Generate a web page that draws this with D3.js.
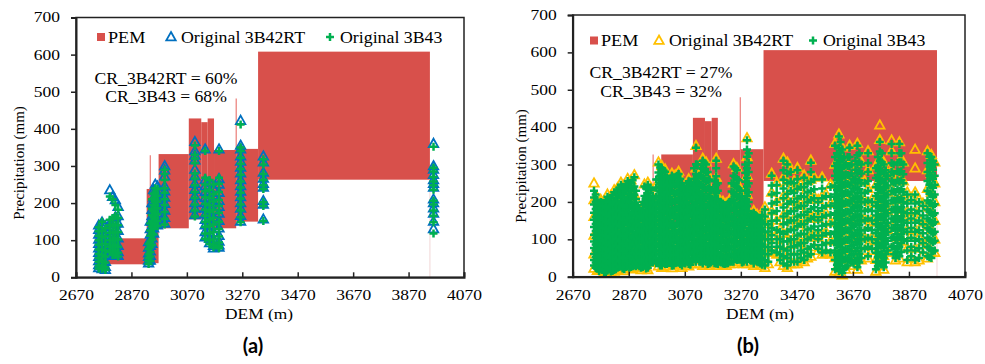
<!DOCTYPE html>
<html>
<head>
<meta charset="utf-8">
<script src="https://cdn.jsdelivr.net/npm/d3@7"></script>
<style>
  body { margin: 0; background: #fff; }
  svg { display: block; }
  text { font-family: "Liberation Serif", "Times New Roman", serif; fill: #000; }
  .panel-label { font-family: Lato, "Open Sans", sans-serif; font-weight: bold; }
</style>
</head>
<body>
<svg id="chart" width="985" height="364"></svg>
<script>
// ticks and labels
const demTicks = [2670, 2870, 3070, 3270, 3470, 3670, 3870, 4070];
const precipTicks = [0, 100, 200, 300, 400, 500, 600, 700];
const seriesNames = ['PEM', 'Original 3B42RT', 'Original 3B43'];
const crA = ['CR_3B42RT = 60%', 'CR_3B43 = 68%'];
const crB = ['CR_3B42RT = 27%', 'CR_3B43 = 32%'];

// PEM envelope blocks: [dem from, dem to, low, high]
const pemA = [
  [2742, 2785, 20, 77], [2785, 2925, 35, 105], [2925, 2968, 38, 238],
  [2968, 3077, 132, 332], [3077, 3122, 156, 428], [3122, 3145, 156, 418],
  [3145, 3168, 130, 428], [3168, 3248, 132, 343], [3248, 3327, 150, 346],
  [3327, 3947, 263, 608]
];
// thin PEM lines: [dem, low, high]
const pemLinesA = [[2938, 40, 329], [3248, 340, 482], [3947, 0, 263]];

const pemB = [
  [2745, 2790, 20, 78], [2790, 2930, 35, 105], [2930, 2950, 15, 240],
  [2986, 3099, 132, 327], [3099, 3142, 158, 425], [3142, 3166, 158, 416],
  [3166, 3188, 150, 425], [3188, 3268, 132, 339], [3268, 3351, 148, 341],
  [3351, 3970, 256, 606]
];
const pemLinesB = [[2957, 150, 327], [3268, 339, 480], [3970, 0, 256]];

// panel (a) scatter: [dem, values]
const rtA = [
  [2752, [140, 128, 115, 102, 90, 78, 66, 55, 44, 33, 25]],
  [2764, [148, 122, 105, 88, 72, 58, 42, 30, 22]],
  [2776, [138, 112, 92, 75, 58, 42, 28, 20]],
  [2792, [235, 145, 130, 112, 95, 80, 65]],
  [2802, [217, 150, 135, 118, 100, 85, 70, 58]],
  [2812, [208, 162, 145, 125, 108, 90, 75, 62]],
  [2822, [190, 165, 145, 125, 105, 85, 68, 58]],
  [2932, [95, 80, 65, 55, 45, 38]],
  [2938, [150, 130, 115, 100, 85, 70, 58, 45]],
  [2944, [200, 182, 165, 150, 135, 120, 105, 90]],
  [2950, [235, 215, 198, 180, 165, 150, 132, 118]],
  [2956, [250, 232, 215, 198, 180, 162, 145]],
  [2964, [245, 225, 208, 190, 172, 155, 140]],
  [2990, [300, 288, 272, 245, 232, 215, 198, 180, 160, 145]],
  [3099, [365, 340, 328, 315, 290, 272, 252, 236, 218, 200, 185, 168]],
  [3136, [345, 262, 245, 230, 214, 200, 185, 170, 155, 140, 122, 108]],
  [3152, [255, 232, 212, 192, 175, 158, 140, 122, 104, 92]],
  [3166, [240, 220, 200, 180, 160, 140, 120, 100, 85, 78]],
  [3186, [345, 265, 250, 228, 206, 190, 172, 152, 132, 112, 96, 86, 80]],
  [3264, [422, 355, 345, 326, 312, 296, 280, 262, 246, 231, 216, 200, 185, 166, 150]],
  [3346, [326, 310, 282, 266, 252, 242, 206, 196, 156]],
  [3960, [360, 300, 290, 276, 262, 252, 242, 210, 200, 186, 172, 150, 130]]
];
const b43A = [
  [2752, [135, 124, 112, 100, 88, 75, 63, 52, 42, 32, 24]],
  [2764, [150, 125, 108, 90, 74, 60, 45, 32, 23]],
  [2776, [132, 110, 90, 72, 56, 40, 27, 20]],
  [2792, [218, 155, 140, 120, 100, 82, 68]],
  [2802, [210, 160, 138, 120, 102, 86, 72, 60]],
  [2812, [195, 165, 142, 122, 105, 88, 72, 60]],
  [2822, [182, 160, 140, 122, 102, 82, 66, 56]],
  [2932, [90, 76, 62, 52, 44, 36]],
  [2938, [145, 126, 112, 96, 82, 68, 56, 44]],
  [2944, [210, 185, 168, 152, 136, 118, 102, 88]],
  [2950, [225, 212, 195, 178, 162, 146, 130, 115]],
  [2956, [240, 228, 210, 195, 176, 160, 142]],
  [2964, [238, 220, 204, 186, 170, 152, 138]],
  [2990, [290, 278, 262, 240, 228, 210, 195, 176, 158, 142]],
  [3099, [355, 330, 320, 308, 280, 266, 248, 230, 214, 196, 180, 164]],
  [3136, [340, 268, 250, 232, 216, 198, 182, 166, 150, 136, 118, 104]],
  [3152, [262, 236, 214, 194, 176, 156, 138, 118, 100, 90]],
  [3166, [250, 224, 204, 182, 160, 142, 122, 102, 88, 80]],
  [3186, [340, 268, 252, 230, 208, 192, 174, 150, 130, 110, 94, 84, 78]],
  [3264, [412, 350, 340, 322, 306, 292, 276, 258, 242, 228, 212, 196, 180, 162, 148]],
  [3346, [318, 304, 278, 262, 248, 238, 202, 192, 152]],
  [3960, [352, 295, 285, 270, 258, 248, 236, 206, 196, 180, 166, 148, 118]]
];

// panel (b) scatter: [dem, values]
const b43B = [
  [2746, [230, 212, 193, 171, 152, 133, 112, 94, 77, 61, 45, 30]],
  [2758, [205, 186, 168, 149, 131, 113, 96, 80, 64, 49, 35, 21]],
  [2770, [200, 181, 160, 142, 121, 104, 88, 71, 55, 40, 26]],
  [2782, [196, 176, 157, 138, 119, 101, 84, 68, 51, 36, 21, 12]],
  [2794, [214, 194, 174, 156, 135, 117, 99, 80, 62, 46, 30, 16]],
  [2806, [210, 189, 170, 151, 131, 111, 94, 76, 59, 41, 26, 14]],
  [2818, [226, 204, 186, 166, 146, 124, 106, 89, 71, 54, 36, 18]],
  [2830, [231, 210, 191, 169, 150, 131, 110, 92, 74, 56, 40, 24]],
  [2842, [246, 224, 201, 181, 160, 139, 121, 101, 81, 64, 46, 29]],
  [2854, [240, 221, 199, 180, 159, 138, 116, 96, 76, 55, 36, 20]],
  [2866, [256, 236, 211, 191, 170, 149, 129, 110, 89, 70, 51, 31]],
  [2878, [251, 229, 208, 189, 166, 146, 126, 104, 86, 66, 45, 26]],
  [2890, [266, 241, 219, 196, 176, 154, 134, 112, 91, 71, 50, 30]],
  [2902, [191, 171, 149, 131, 110, 91, 70, 51, 34]],
  [2914, [176, 156, 134, 116, 96, 75, 56, 39, 24]],
  [2926, [241, 216, 194, 171, 151, 129, 110, 89, 70, 49, 30]],
  [2938, [246, 224, 204, 186, 161, 141, 120, 99, 80, 61, 41, 24]],
  [2950, [231, 209, 186, 166, 144, 125, 106, 84, 65, 45]],
  [2962, [200, 181, 160, 139, 121, 100, 81, 60, 44]],
  [2976, [300, 279, 260, 239, 216, 196, 174, 151, 130, 110, 89, 70, 50, 35]],
  [2988, [290, 270, 249, 231, 209, 186, 164, 146, 124, 105, 85, 64, 46, 30]],
  [3000, [281, 259, 240, 216, 194, 175, 151, 129, 110, 90, 71, 50, 34]],
  [3012, [255, 236, 214, 195, 171, 150, 131, 109, 90, 70, 55, 39]],
  [3024, [270, 249, 230, 206, 184, 165, 141, 120, 101, 79, 60, 41, 29]],
  [3036, [265, 244, 221, 200, 179, 161, 135, 115, 96, 74, 55, 36]],
  [3048, [275, 251, 229, 210, 186, 164, 145, 121, 100, 81, 59, 40]],
  [3060, [250, 231, 209, 190, 169, 151, 125, 106, 84, 65, 46, 30]],
  [3072, [230, 211, 189, 170, 151, 129, 111, 89, 70, 51, 35]],
  [3084, [255, 234, 215, 191, 170, 149, 130, 111, 89, 70, 50, 34]],
  [3096, [245, 224, 201, 180, 161, 139, 120, 99, 80, 61, 40]],
  [3110, [345, 301, 275, 250, 226, 200, 180, 159, 140, 116, 95, 75, 55, 40]],
  [3122, [270, 249, 226, 205, 181, 160, 139, 120, 101, 80, 59, 40]],
  [3134, [310, 289, 265, 241, 215, 194, 175, 151, 130, 109, 90, 70, 50, 35]],
  [3146, [300, 279, 256, 230, 209, 186, 165, 140, 121, 100, 79, 60, 40]],
  [3158, [260, 239, 216, 195, 174, 150, 131, 110, 89, 70, 51, 35]],
  [3170, [200, 179, 160, 141, 120, 99, 80, 61, 45]],
  [3182, [310, 290, 269, 245, 224, 201, 180, 159, 136, 115, 94, 75, 55, 35]],
  [3194, [200, 180, 159, 140, 121, 100, 80, 59, 40]],
  [3206, [195, 176, 155, 134, 115, 96, 75, 55, 35]],
  [3218, [190, 169, 150, 131, 110, 89, 70, 51, 35]],
  [3230, [200, 181, 160, 139, 120, 101, 80, 60, 40]],
  [3244, [295, 270, 249, 226, 205, 184, 160, 141, 120, 99, 80, 61, 40]],
  [3256, [285, 261, 240, 214, 190, 171, 145, 124, 105, 86, 65, 45]],
  [3268, [230, 209, 190, 171, 150, 129, 110, 91, 70, 50]],
  [3280, [200, 181, 160, 139, 120, 100, 81, 60, 40]],
  [3292, [365, 340, 321, 290, 265, 241, 215, 189, 165, 146, 120, 99, 80, 60, 40]],
  [3304, [160, 139, 120, 101, 80, 60, 45]],
  [3316, [170, 151, 130, 109, 90, 71, 50, 35]],
  [3328, [160, 140, 119, 100, 81, 60, 40]],
  [3340, [150, 131, 110, 89, 70, 50, 35]],
  [3356, [180, 161, 140, 119, 100, 80, 61, 45, 30]],
  [3368, [140, 121, 100, 79, 60, 40]],
  [3380, [270, 244, 220, 196, 170, 149, 130, 111, 90, 70]],
  [3398, [245, 224, 200, 176, 150, 125, 100, 80, 65]],
  [3410, [120, 101, 80, 60, 45]],
  [3422, [310, 285, 259, 236, 210, 185, 161, 140, 115, 94, 75, 55, 35]],
  [3436, [300, 276, 250, 221, 195, 169, 145, 121, 95, 70, 50, 30]],
  [3448, [280, 254, 230, 201, 175, 150, 126, 100, 80, 60, 40]],
  [3460, [250, 224, 200, 176, 150, 124, 100, 81, 60, 40]],
  [3472, [285, 261, 235, 209, 185, 161, 135, 110, 84, 60, 40]],
  [3484, [240, 215, 189, 165, 141, 115, 90, 70, 50]],
  [3496, [265, 240, 214, 190, 166, 140, 114, 90, 65, 45]],
  [3508, [250, 226, 200, 174, 150, 126, 100, 75, 55]],
  [3520, [305, 280, 254, 230, 205, 181, 155, 129, 105, 80, 60]],
  [3532, [260, 234, 210, 186, 160, 134, 110, 85]],
  [3546, [200, 176, 150, 124, 100, 75]],
  [3560, [260, 236, 210, 184, 160, 136, 110, 85, 65]],
  [3574, [215, 190, 164, 140, 116, 90, 70]],
  [3590, [240, 214, 190, 166, 140, 114, 90, 65]],
  [3606, [350, 320, 296, 270, 244, 220, 196, 170, 144, 120, 96, 70, 45, 20]],
  [3620, [375, 345, 320, 291, 265, 239, 215, 190, 166, 140, 114, 90, 65, 40, 15]],
  [3632, [340, 316, 290, 264, 240, 216, 190, 164, 140, 116, 90, 64, 40, 10]],
  [3644, [300, 274, 250, 226, 200, 174, 150, 126, 100, 74, 50, 25]],
  [3658, [345, 320, 296, 270, 244, 220, 196, 170, 144, 120, 96, 70, 45]],
  [3672, [260, 236, 210, 184, 160, 136, 110, 84, 60, 35]],
  [3686, [350, 325, 300, 276, 250, 224, 200, 176, 150, 124, 100, 76, 50, 25]],
  [3700, [300, 276, 250, 224, 200, 176, 150, 124, 100, 76, 50]],
  [3712, [250, 224, 200, 176, 150, 124, 100, 75]],
  [3724, [330, 304, 280, 256, 230, 204, 180, 156, 130, 104, 80, 55]],
  [3738, [200, 176, 150, 124, 100, 75]],
  [3752, [290, 264, 240, 216, 190, 164, 140, 116, 90, 64, 40, 20]],
  [3766, [360, 335, 310, 284, 260, 236, 210, 184, 160, 136, 110, 84, 60, 35]],
  [3780, [300, 276, 250, 224, 200, 176, 150, 124, 100, 76, 50, 25]],
  [3794, [270, 244, 220, 196, 170, 144, 120, 96, 70]],
  [3808, [355, 330, 304, 280, 256, 230, 204, 180, 156, 130, 104, 80]],
  [3822, [250, 226, 200, 174, 150, 126, 100, 74, 50]],
  [3836, [355, 330, 306, 280, 254, 230, 206, 180, 154, 130, 106, 80, 55]],
  [3850, [300, 274, 250, 226, 200, 174, 150, 126, 100]],
  [3864, [220, 196, 170, 144, 120, 96, 70, 45]],
  [3878, [205, 180, 156, 130, 104, 80, 55]],
  [3892, [220, 196, 170, 144, 120, 96, 70, 45]],
  [3906, [200, 176, 150, 124, 100, 76, 50]],
  [3920, [190, 164, 140, 116, 90, 65]],
  [3936, [330, 304, 280, 256, 230, 204, 180, 156, 130, 104, 80, 55]],
  [3950, [320, 296, 270, 244, 220, 196, 170, 144, 120, 96, 70, 50]],
  [3962, [300, 270, 246, 220, 194, 170, 146, 120, 96, 70]],
  // in-between stations
  [2752, [220, 200, 181, 160, 141, 122, 104, 86, 70, 53, 38, 24]],
  [2764, [196, 176, 158, 140, 122, 104, 88, 72, 56, 42, 28, 15]],
  [2776, [190, 170, 150, 131, 112, 95, 78, 62, 46, 31, 18]],
  [2788, [205, 185, 165, 146, 127, 108, 90, 74, 57, 41, 26, 12]],
  [2800, [200, 180, 161, 141, 121, 103, 85, 67, 50, 35, 20]],
  [2812, [218, 196, 177, 157, 136, 115, 98, 80, 63, 46, 28, 15]],
  [2824, [220, 200, 180, 160, 140, 120, 100, 82, 64, 47, 31, 20]],
  [2836, [238, 218, 196, 176, 155, 136, 115, 96, 78, 60, 42, 26]],
  [2848, [236, 214, 192, 171, 150, 129, 108, 88, 68, 50, 32, 22]],
  [2860, [248, 228, 206, 186, 165, 144, 122, 102, 82, 62, 42, 26]],
  [2872, [244, 222, 200, 180, 158, 138, 118, 96, 76, 56, 36, 24]],
  [2884, [258, 236, 214, 190, 170, 148, 128, 106, 86, 64, 44, 28]],
  [2896, [230, 208, 186, 164, 142, 120, 100, 80, 60, 42, 28]],
  [2908, [182, 162, 140, 122, 102, 82, 62, 44, 28]],
  [2920, [200, 180, 160, 140, 120, 100, 80, 60, 42, 26]],
  [2932, [236, 214, 192, 172, 150, 130, 110, 90, 70, 52, 34, 22]],
  [2944, [238, 216, 196, 176, 154, 132, 112, 92, 72, 52, 32]],
  [2956, [216, 196, 176, 156, 134, 114, 94, 74, 54, 38]],
  [2968, [260, 238, 214, 192, 170, 150, 128, 108, 88, 68, 50, 36]],
  [2982, [292, 270, 250, 228, 206, 184, 162, 140, 120, 100, 80, 60, 42, 30]],
  [2994, [284, 262, 242, 220, 198, 176, 154, 134, 114, 94, 74, 54, 38]],
  [3006, [266, 246, 226, 204, 182, 160, 140, 120, 100, 80, 62, 44, 34]],
  [3018, [262, 242, 222, 200, 178, 158, 136, 114, 94, 74, 56, 40]],
  [3030, [266, 246, 224, 202, 180, 160, 138, 118, 98, 78, 58, 40, 30]],
  [3042, [270, 248, 226, 204, 182, 160, 140, 118, 98, 78, 58, 38]],
  [3054, [262, 240, 218, 198, 176, 156, 134, 114, 92, 72, 52, 34]],
  [3066, [240, 220, 198, 178, 158, 138, 118, 96, 76, 56, 38]],
  [3078, [244, 222, 200, 180, 160, 140, 120, 100, 80, 60, 42]],
  [3090, [250, 228, 208, 186, 166, 144, 124, 104, 84, 64, 44, 32]],
  [3103, [290, 262, 238, 214, 190, 170, 150, 128, 108, 86, 66, 46]],
  [3116, [300, 264, 238, 214, 190, 170, 150, 130, 110, 88, 68, 48]],
  [3128, [290, 270, 246, 222, 200, 180, 160, 140, 118, 96, 76, 56, 40]],
  [3140, [305, 284, 260, 236, 212, 190, 170, 148, 126, 104, 84, 64, 44]],
  [3152, [280, 258, 236, 214, 192, 170, 150, 128, 106, 84, 64, 44, 34]],
  [3164, [230, 208, 188, 168, 148, 128, 108, 88, 68, 50, 38]],
  [3176, [255, 234, 212, 190, 170, 148, 128, 108, 86, 66, 48, 36]],
  [3188, [250, 230, 208, 186, 166, 146, 124, 104, 84, 64, 46, 34]],
  [3200, [198, 178, 158, 138, 118, 98, 78, 58, 38]],
  [3212, [192, 172, 152, 132, 112, 92, 72, 52, 34]],
  [3224, [195, 175, 155, 135, 115, 95, 75, 55, 36]],
  [3237, [250, 228, 206, 184, 162, 142, 120, 100, 80, 60, 40]],
  [3250, [290, 266, 244, 220, 198, 176, 154, 132, 112, 92, 72, 52]],
  [3262, [258, 236, 214, 192, 170, 150, 130, 110, 88, 68, 48]],
  [3274, [215, 194, 174, 154, 134, 114, 94, 74, 54, 38]],
  [3286, [300, 278, 254, 230, 206, 184, 160, 138, 116, 94, 72, 52]],
  [3298, [330, 305, 280, 250, 226, 200, 176, 152, 130, 108, 88, 68, 48]],
  [3310, [165, 145, 125, 105, 85, 65, 46]],
  [3322, [165, 145, 125, 105, 85, 65, 45]],
  [3334, [155, 135, 115, 95, 75, 55, 38]],
  [3346, [165, 145, 125, 105, 85, 65, 45, 32]],
  [3613, [330, 305, 282, 258, 232, 208, 184, 158, 132, 108, 84, 58, 32]],
  [3626, [360, 332, 306, 278, 252, 228, 202, 178, 152, 128, 102, 78, 52, 28]],
  [3638, [320, 296, 270, 246, 222, 196, 170, 146, 122, 96, 70, 46, 20]],
  [3651, [320, 296, 272, 248, 224, 198, 174, 150, 124, 98, 74, 48, 30]],
  [3665, [300, 276, 252, 228, 204, 180, 154, 130, 106, 82, 58, 40]],
  [3679, [310, 286, 262, 238, 214, 190, 164, 140, 116, 92, 68, 44]],
  [3693, [330, 306, 282, 258, 234, 210, 186, 162, 138, 112, 88, 62, 38]],
  [3759, [320, 296, 272, 248, 224, 200, 176, 152, 126, 100, 76, 52, 28]],
  [3773, [330, 306, 282, 258, 234, 210, 186, 162, 136, 112, 88, 62, 38]],
  [3787, [285, 262, 238, 212, 188, 162, 136, 112, 86, 60, 38]],
  [3815, [300, 276, 252, 228, 204, 180, 154, 130, 106, 82, 60]],
  [3829, [305, 282, 258, 234, 210, 186, 162, 138, 114, 90, 66]],
  [3843, [330, 306, 282, 258, 234, 210, 186, 162, 138, 114, 90, 66]],
  [3943, [320, 294, 270, 246, 222, 198, 174, 150, 126, 100, 76, 52]],
  [3956, [310, 286, 262, 238, 214, 190, 166, 142, 116, 92, 68]]
];
const rtB = [
  [2746, [250, 205, 160, 110, 60, 22]], [2758, [212, 170, 125, 80, 35, 16]],
  [2770, [206, 160, 110, 60, 20]], [2782, [202, 150, 100, 55, 12]],
  [2794, [220, 170, 120, 70, 25, 10]], [2806, [216, 165, 115, 65, 12]],
  [2818, [232, 180, 130, 80, 30, 14]], [2830, [237, 185, 135, 85, 35, 18]],
  [2842, [252, 200, 150, 100, 50, 22]], [2854, [246, 195, 145, 95, 45, 15]],
  [2866, [262, 210, 160, 110, 60, 25]], [2878, [258, 205, 155, 105, 55, 20]],
  [2890, [272, 220, 170, 120, 70, 24]], [2902, [197, 150, 105, 60, 28]],
  [2914, [182, 135, 90, 50, 18]], [2926, [247, 195, 145, 95, 45, 24]],
  [2938, [252, 200, 150, 100, 50, 18]], [2950, [237, 185, 135, 85, 38]],
  [2962, [206, 160, 115, 70, 38]], [2976, [306, 255, 205, 155, 105, 55, 28]],
  [2988, [296, 245, 195, 145, 95, 45, 24]], [3000, [287, 235, 185, 135, 85, 28]],
  [3012, [261, 210, 160, 110, 60, 33]], [3024, [276, 225, 175, 125, 75, 23]],
  [3036, [271, 220, 170, 120, 70, 30]], [3048, [281, 230, 180, 130, 80, 34]],
  [3060, [256, 205, 155, 105, 55, 24]], [3072, [236, 185, 135, 85, 29]],
  [3084, [261, 210, 160, 110, 60, 28]], [3096, [251, 200, 150, 100, 34]],
  [3110, [350, 290, 240, 190, 140, 90, 34]], [3122, [276, 225, 175, 125, 75, 34]],
  [3134, [316, 265, 215, 165, 115, 65, 29]], [3146, [306, 255, 205, 155, 105, 55, 34]],
  [3158, [266, 215, 165, 115, 65, 29]], [3170, [206, 160, 115, 70, 39]],
  [3182, [316, 265, 215, 165, 115, 65, 29]], [3194, [206, 160, 115, 70, 34]],
  [3206, [201, 155, 110, 65, 29]], [3218, [196, 150, 105, 60, 29]],
  [3230, [206, 160, 115, 70, 34]], [3244, [301, 250, 200, 150, 100, 55, 34]],
  [3256, [291, 240, 190, 140, 90, 39]], [3268, [236, 185, 135, 85, 44]],
  [3280, [206, 160, 115, 70, 34]], [3292, [371, 320, 270, 220, 170, 120, 70, 34]],
  [3304, [166, 125, 85, 39]], [3316, [176, 135, 95, 55, 29]],
  [3328, [166, 125, 85, 34]], [3340, [156, 115, 75, 29]],
  [3356, [186, 140, 95, 50, 24]], [3368, [146, 105, 65, 34]],
  [3380, [276, 225, 175, 125, 64]], [3398, [251, 200, 150, 100, 59]],
  [3410, [126, 85, 39]], [3422, [316, 265, 215, 165, 115, 65, 29]],
  [3436, [306, 255, 205, 155, 105, 55, 24]], [3448, [286, 235, 185, 135, 85, 34]],
  [3460, [256, 205, 155, 105, 55, 34]], [3472, [291, 240, 190, 140, 90, 34]],
  [3484, [246, 195, 145, 95, 44]], [3496, [271, 220, 170, 120, 70, 39]],
  [3508, [256, 205, 155, 105, 49]], [3520, [311, 260, 210, 160, 110, 54]],
  [3532, [266, 215, 165, 115, 79]], [3546, [206, 155, 105, 69]],
  [3560, [266, 215, 165, 115, 59]], [3574, [221, 170, 120, 64]],
  [3590, [246, 195, 145, 95, 59]], [3606, [356, 300, 250, 200, 150, 100, 50, 14]],
  [3620, [381, 330, 280, 230, 180, 130, 80, 30, 9]], [3632, [346, 295, 245, 195, 145, 95, 45, 4]],
  [3644, [306, 255, 205, 155, 105, 55, 19]], [3658, [351, 300, 250, 200, 150, 100, 39]],
  [3672, [266, 215, 165, 115, 65, 29]], [3686, [356, 305, 255, 205, 155, 105, 55, 19]],
  [3700, [306, 255, 205, 155, 105, 44]], [3712, [256, 205, 155, 105, 69]],
  [3724, [336, 285, 235, 185, 135, 85, 49]], [3738, [206, 155, 105, 69]],
  [3752, [296, 245, 195, 145, 95, 45, 14]], [3766, [405, 366, 315, 265, 215, 165, 115, 65, 29]],
  [3780, [306, 255, 205, 155, 105, 55, 19]], [3794, [276, 225, 175, 125, 64]],
  [3808, [365, 336, 285, 235, 185, 135, 74]], [3822, [256, 205, 155, 105, 44]],
  [3836, [360, 310, 260, 210, 160, 110, 49]], [3850, [306, 255, 205, 155, 94]],
  [3864, [226, 175, 125, 75, 39]], [3878, [211, 160, 110, 49]],
  [3892, [340, 290, 226, 175, 125, 75, 39]], [3906, [206, 155, 105, 44]],
  [3920, [196, 145, 95, 59]], [3936, [336, 285, 235, 185, 135, 85, 49]],
  [3950, [326, 275, 225, 175, 125, 64]], [3962, [306, 250, 200, 150, 100, 64]]
];

const pemColor = '#D8504B';
const greenColor = '#00B050';

const panels = [
  {left: 76, top: 17.5, right: 464, bottom: 277.3, rtColor: '#0070C0',
   pem: pemA, lines: pemLinesA, rt: rtA, b43: b43A, cr: crA,
   crX: 166, crY: [78.5, 96], legY: 37, legX: [97, 171, 330],
   yTitleX: 19, yTitleY: 163, xTitleX: 259, label: '(a)', labelX: 253},
  {left: 572.7, top: 15, right: 965, bottom: 276.7, rtColor: '#FFC000',
   pem: pemB, lines: pemLinesB, rt: rtB, b43: b43B, cr: crB,
   crX: 661, crY: [72.5, 91], legY: 40.5, legX: [590, 659, 813],
   yTitleX: 521, yTitleY: 166, xTitleX: 760, label: '(b)', labelX: 748}
];

const svg = d3.select('#chart');
const triPath = 'M0,-5L4.7,3.3L-4.7,3.3Z';
const plusPath = 'M-4,0H4M0,-4V4';

function stretchText(g, str, x, y, size, sx, anchor) {
  return g.append('text')
    .attr('transform', `translate(${x},${y}) scale(${sx},1)`)
    .attr('text-anchor', anchor || 'start')
    .attr('dy', '0.35em')
    .style('font-size', size + 'px')
    .text(str);
}

panels.forEach(p => {
  const x = d3.scaleLinear().domain([2670, 4070]).range([p.left, p.right]);
  const y = d3.scaleLinear().domain([0, 700]).range([p.bottom, p.top]);
  const g = svg.append('g');

  // PEM blocks
  g.append('g').selectAll('rect').data(p.pem).join('rect')
    .attr('x', d => x(d[0]))
    .attr('y', d => y(d[3]))
    .attr('width', d => x(d[1]) - x(d[0]))
    .attr('height', d => y(d[2]) - y(d[3]))
    .attr('fill', pemColor);

  g.append('g').selectAll('line').data(p.lines).join('line')
    .attr('x1', d => x(d[0])).attr('x2', d => x(d[0]))
    .attr('y1', d => y(d[1])).attr('y2', d => y(d[2]))
    .attr('stroke', (d, i) => i === p.lines.length - 1 ? '#F3DADA' : '#E8706B')
    .attr('stroke-width', 1.1);

  // triangles (3B42RT)
  const rtPts = p.rt.flatMap(c => c[1].map(v => [c[0], v]));
  g.append('g').selectAll('path').data(rtPts).join('path')
    .attr('transform', d => `translate(${x(d[0])},${y(d[1])})`)
    .attr('d', triPath)
    .attr('fill', 'none')
    .attr('stroke', p.rtColor)
    .attr('stroke-width', 1.8);

  // pluses (3B43)
  const gPts = p.b43.flatMap(c => c[1].map(v => [c[0], v]));
  g.append('g').selectAll('path').data(gPts).join('path')
    .attr('transform', d => `translate(${x(d[0])},${y(d[1])})`)
    .attr('d', plusPath)
    .attr('fill', 'none')
    .attr('stroke', greenColor)
    .attr('stroke-width', 2.5);

  // frame
  g.append('rect')
    .attr('x', p.left).attr('y', p.top)
    .attr('width', p.right - p.left).attr('height', p.bottom - p.top)
    .attr('fill', 'none').attr('stroke', '#222').attr('stroke-width', 1.5);

  // axes
  const xAxis = g.append('g')
    .attr('transform', `translate(0,${p.bottom})`)
    .call(d3.axisBottom(x).tickValues(demTicks).tickSize(-5).tickPadding(13).tickFormat(d3.format('d')));
  const yAxis = g.append('g')
    .attr('transform', `translate(${p.left},0)`)
    .call(d3.axisLeft(y).tickValues(precipTicks).tickSize(5).tickPadding(8).tickFormat(d3.format('d')));
  [xAxis, yAxis].forEach(ax => {
    ax.select('.domain').attr('stroke', '#222').attr('stroke-width', 2);
    ax.selectAll('.tick line').attr('stroke', '#222').attr('stroke-width', 1.5);
    ax.selectAll('.tick text')
      .attr('fill', '#000')
      .style('font-family', '"Liberation Serif", serif')
      .style('font-size', '14px');
  });
  xAxis.selectAll('.tick text').attr('transform', 'scale(1.25,1)');
  yAxis.selectAll('.tick text').attr('transform', 'scale(1.25,1)').attr('x', -12.8);

  // legend
  g.append('rect')
    .attr('x', p.legX[0]).attr('y', p.legY - 4)
    .attr('width', 8).attr('height', 8)
    .attr('fill', pemColor);
  stretchText(g, seriesNames[0], p.legX[0] + 11, p.legY, 16.5, 1.1);
  g.append('path')
    .attr('transform', `translate(${p.legX[1]},${p.legY})`)
    .attr('d', triPath).attr('fill', 'none')
    .attr('stroke', p.rtColor).attr('stroke-width', 1.8);
  stretchText(g, seriesNames[1], p.legX[1] + 10, p.legY, 16.5, 1.08);
  g.append('path')
    .attr('transform', `translate(${p.legX[2]},${p.legY})`)
    .attr('d', plusPath).attr('fill', 'none')
    .attr('stroke', greenColor).attr('stroke-width', 2.5);
  stretchText(g, seriesNames[2], p.legX[2] + 10, p.legY, 16.5, 1.08);

  // CR annotation
  p.cr.forEach((t, i) => stretchText(g, t, p.crX, p.crY[i], 16.5, 1.07, 'middle'));

  // axis titles
  g.append('text')
    .attr('transform', `translate(${p.yTitleX},${p.yTitleY}) rotate(-90)`)
    .attr('text-anchor', 'middle').attr('dy', '0.35em')
    .style('font-size', '15px')
    .text('Precipitation (mm)');
  stretchText(g, 'DEM (m)', p.xTitleX, 314, 15.5, 1.12, 'middle');

  g.append('text')
    .attr('class', 'panel-label')
    .attr('x', p.labelX).attr('y', 346)
    .attr('text-anchor', 'middle').attr('dy', '0.35em')
    .style('font-size', '20px')
    .text(p.label);
});
</script>
</body>
</html>
